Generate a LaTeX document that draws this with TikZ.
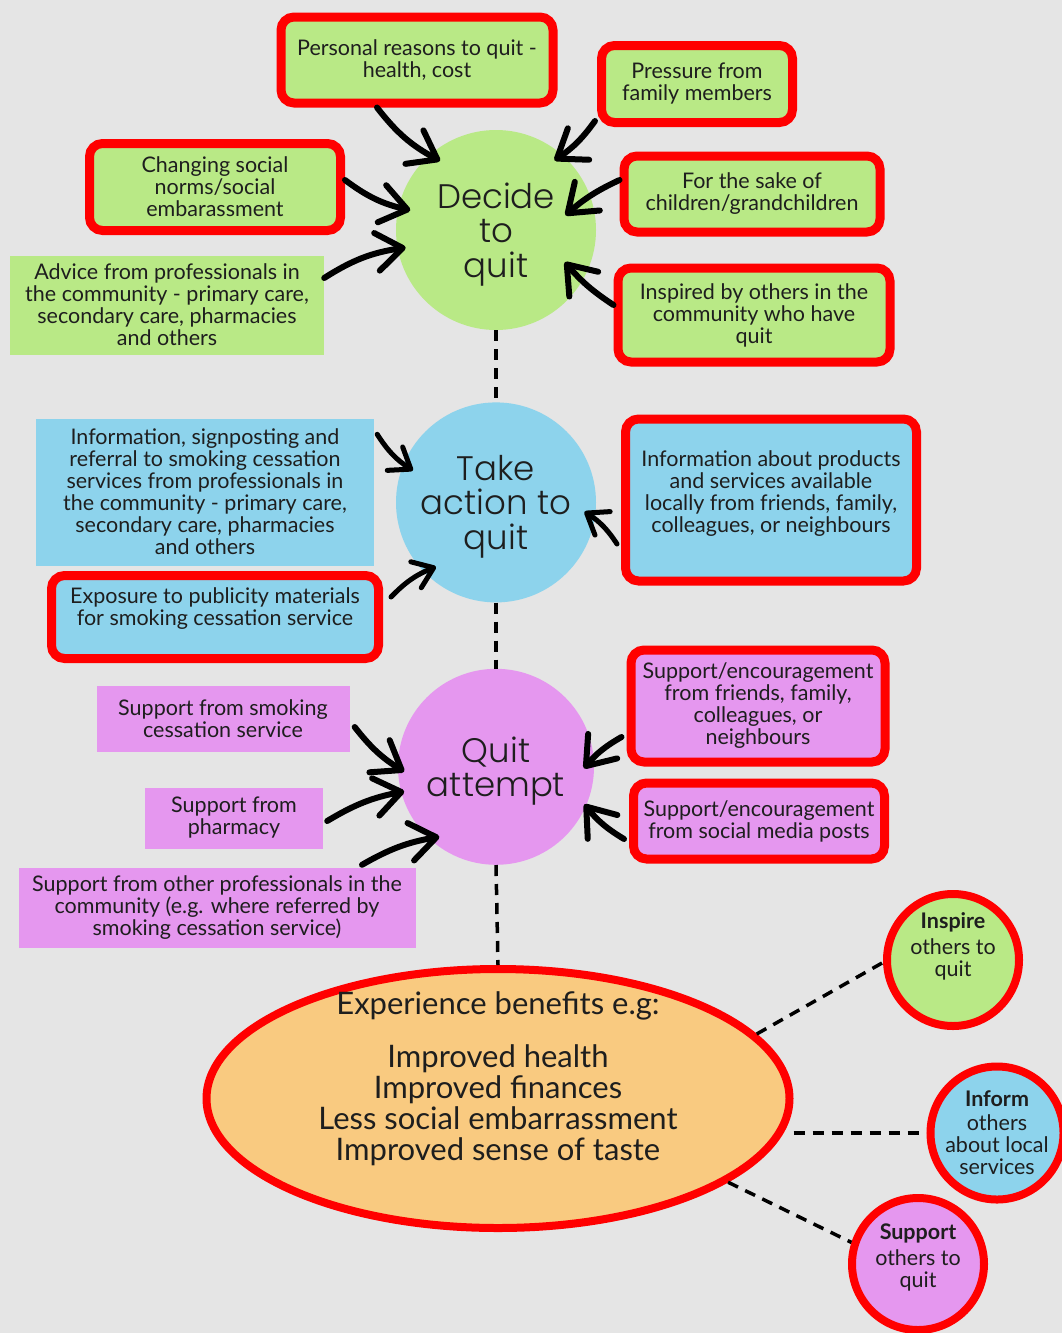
\documentclass[tikz,border=0pt]{standalone}
\usepackage{fontspec}
\setmainfont{Lato}
\IfFontExistsTF{Poppins Light}{\newfontfamily\circfont{Poppins Light}}{\newfontfamily\circfont{Poppins}}
\usepackage{xcolor}
\usetikzlibrary{arrows.meta, positioning, calc, shapes.geometric}

\definecolor{bgrey}{HTML}{E5E5E5}
\definecolor{lgreen}{HTML}{B9E986}
\definecolor{lblue}{HTML}{8DD3EC}
\definecolor{lpink}{HTML}{E597EF}
\definecolor{lorange}{HTML}{F9CA80}
\definecolor{txt}{HTML}{1E1E1E}

\begin{document}
\begin{tikzpicture}[
    x=1pt, y=1pt,
    boxtext/.style={align=center, font=\fontsize{21.5}{22}\selectfont, text=txt, inner sep=0pt},
    plainbox/.style={boxtext, rectangle},
    redbox/.style={boxtext, rectangle, draw=red, line width=9pt, rounded corners=13pt},
    stage/.style={circle, inner sep=0pt, minimum size=200pt, align=center, text depth=0pt,
        font=\circfont\fontsize{34}{34.5}\selectfont, text=txt},
    spread/.style={circle, draw=red, line width=8pt, inner sep=0pt, minimum size=132pt, align=center,
        font=\fontsize{21.5}{22}\selectfont, text=txt},
    benefit/.style={ellipse, draw=red, line width=8pt, fill=lorange, inner sep=0pt, text height=129pt,
        minimum width=583pt, minimum height=259pt, align=center, font=\fontsize{31}{31}\selectfont, text=txt},
    arr/.style={-{Straight Barb[round, length=26pt, width=38pt]}, line width=6pt, line cap=round},
    sarr/.style={arr, -{Straight Barb[round, length=19pt, width=28pt]}, line width=5pt},
    dots/.style={line width=3.5pt, dash pattern=on 11pt off 8pt},
]
\path[use as bounding box, fill=bgrey] (0,0) rectangle (1062,-1333);

\node[stage, fill=lgreen] (decide) at (496,-230) {Decide\\to\\quit};
\node[stage, fill=lblue, below=72pt of decide] (take) {Take\\action to\\quit};
\node[stage, fill=lpink, minimum size=196pt, below=66pt of take] (attempt) {Quit\\attempt};
\node[benefit, below=100pt of attempt, xshift=2pt] (ben) {Experience benefits e.g:\\[22pt]Improved health\\Improved finances\\Less social embarrassment\\Improved sense of taste};

\node[redbox, fill=lgreen, minimum width=272pt, minimum height=86pt] (pers) at (417,-60) {Personal reasons to quit -\\health, cost};
\node[redbox, fill=lgreen, minimum width=191pt, minimum height=77pt] (press) at (697,-84) {Pressure from\\family members};
\node[redbox, fill=lgreen, minimum width=251pt, minimum height=87pt] (norms) at (215,-187) {Changing social\\norms/social\\embarassment};
\node[plainbox, fill=lgreen, minimum width=314pt, minimum height=99pt] (advice) at (167,-305) {Advice from professionals in\\the community - primary care,\\secondary care, pharmacies\\and others};
\node[redbox, fill=lgreen, minimum width=256pt, minimum height=76pt] (sake) at (752,-194) {For the sake of\\children/grandchildren};
\node[redbox, fill=lgreen, minimum width=272pt, minimum height=94pt] (inspired) at (754,-315) {Inspired by others in the\\community who have\\quit};

\node[plainbox, fill=lblue, minimum width=338pt, minimum height=147pt] (signpost) at (205,-492) {Information, signposting and\\referral to smoking cessation\\services from professionals in\\the community - primary care,\\secondary care, pharmacies\\and others};
\node[redbox, fill=lblue, minimum width=327pt, minimum height=83pt, text depth=20pt] (expo) at (215,-617) {Exposure to publicity materials\\for smoking cessation service};
\node[redbox, fill=lblue, minimum width=291pt, minimum height=162pt, text depth=16pt] (prod) at (771,-500) {Information about products\\and services available\\locally from friends, family,\\colleagues, or neighbours};

\node[plainbox, fill=lpink, minimum width=253pt, minimum height=66pt] (smoke) at (223,-719) {Support from smoking\\cessation service};
\node[plainbox, fill=lpink, minimum width=178pt, minimum height=61pt] (pharm) at (234,-818) {Support from\\pharmacy};
\node[plainbox, fill=lpink, minimum width=397pt, minimum height=80pt] (other) at (217,-908) {Support from other professionals in the\\community (e.g. where referred by\\smoking cessation service)};
\node[redbox, fill=lpink, minimum width=254pt, minimum height=112pt] (friends) at (758,-706) {Support/encouragement\\from friends, family,\\colleagues, or\\neighbours};
\node[redbox, fill=lpink, minimum width=251pt, minimum height=76pt] (social) at (759,-821) {Support/encouragement\\from social media posts};

\node[spread, fill=lgreen, text depth=30pt] (inspire) at (953,-960) {\textbf{Inspire}\\[4pt]others to\\quit};
\node[spread, fill=lblue] (inform) at (997,-1133) {\textbf{Inform}\\[2pt]others\\about local\\services};
\node[spread, fill=lpink, text depth=16pt] (supp) at (918,-1264) {\textbf{Support}\\[4pt]others to\\quit};

\draw[dots] (decide.south) -- (take.north);
\draw[dots] (take.south) -- (attempt.north);
\draw[dots] (attempt.south) -- (ben.north);
\draw[dots] (ben.14) -- (inspire.182);
\draw[dots] (inform.west -| ben.east) -- (inform.west);
\draw[dots] (ben.-20) -- (supp.162);

\draw[arr] ([xshift=-40pt]pers.south) to[bend right=12] ($(decide)+(129:89)$);
\draw[arr] ([shift={(-2pt,6pt)}]press.south west) to[bend left=10] ($(decide)+(50:91)$);
\draw[arr] ([yshift=7pt]norms.east) to[bend right=12] ($(decide)+(167:88)$);
\draw[arr] ([yshift=27pt]advice.east) to[bend left=12] ($(decide)+(191:92)$);
\draw[arr] ([yshift=14pt]sake.west) to[bend right=8] ($(decide)+(12:71)$);
\draw[arr] ([yshift=10pt]inspired.west) to[bend left=8] ($(decide)+(-25:76)$);

\draw[sarr] ([shift={(3pt,-16pt)}]signpost.north east) to[bend right=12] ($(take)+(159:89)$);
\draw[sarr] ([shift={(8pt,20pt)}]expo.east) to[bend left=12] ($(take)+(227:88)$);
\draw[sarr] ([shift={(-4pt,-44pt)}]prod.west) to[bend right=12] ($(take)+(-6:89)$);

\draw[arr] ([shift={(5pt,-8pt)}]smoke.east) to[bend right=10] ($(attempt)+(183:92)$);
\draw[arr] ([shift={(4pt,-3pt)}]pharm.east) to[bend left=10] ($(attempt)+(195:95)$);
\draw[arr] ([shift={(145pt,3pt)}]other.north) to[bend left=10] ($(attempt)+(231:90)$);
\draw[arr] ([shift={(-5pt,-31pt)}]friends.west) to[bend right=10] ($(attempt)+(-1:88)$);
\draw[arr] ([shift={(-5pt,-18pt)}]social.west) to[bend left=10] ($(attempt)+(-23:96)$);
\end{tikzpicture}
\end{document}
